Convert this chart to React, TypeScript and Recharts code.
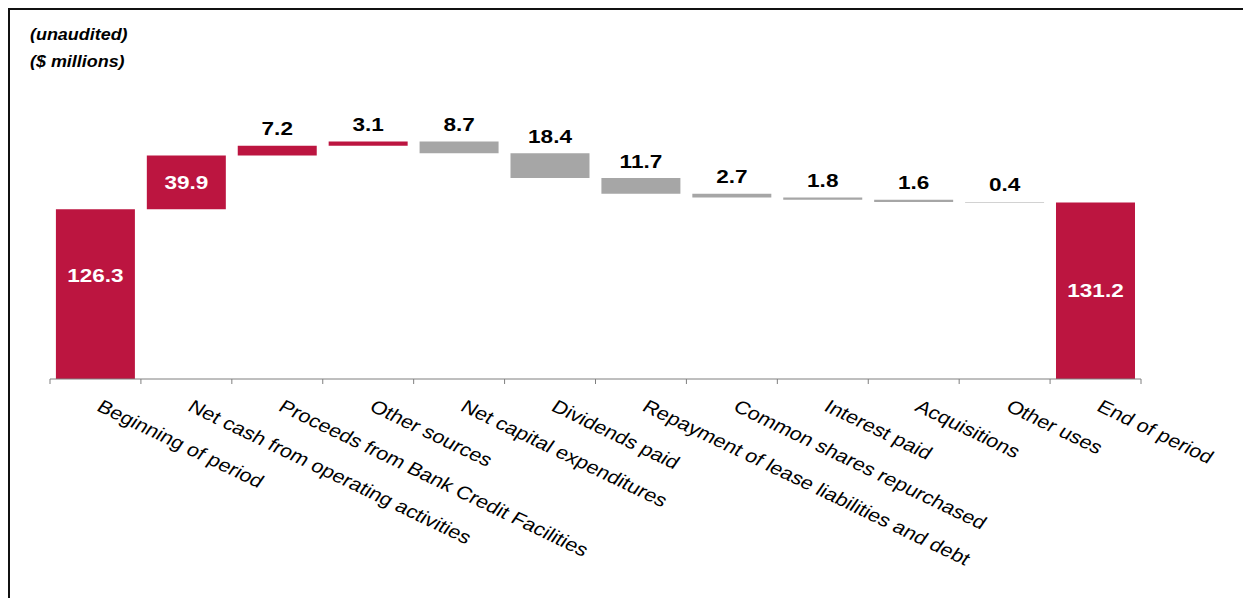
import { Bar, BarChart, Cell, LabelList, XAxis, YAxis } from "recharts";

const categories = [
  "Beginning of period",
  "Net cash from operating activities",
  "Proceeds from Bank Credit Facilities",
  "Other sources",
  "Net capital expenditures",
  "Dividends paid",
  "Repayment of lease liabilities and debt",
  "Common shares repurchased",
  "Interest paid",
  "Acquisitions",
  "Other uses",
  "End of period",
];

const amounts = [126.3, 39.9, 7.2, 3.1, 8.7, 18.4, 11.7, 2.7, 1.8, 1.6, 0.4, 131.2];

const kinds = ["total", "source", "source", "source", "use", "use", "use", "use", "use", "use", "use", "total"];

const RED = "#BC1540";
const GREY = "#A6A6A6";
const FONT = '"Liberation Sans", Arial, sans-serif';
const STRETCH = 1.2;

const CHART_W = 1243;
const CHART_H = 590;
const MARGIN = { top: 102, right: 110, bottom: 19, left: 42 };
const AXIS_H = 200;
const PLOT_BOTTOM = CHART_H - MARGIN.bottom - AXIS_H;
const BAND = (CHART_W - MARGIN.left - MARGIN.right) / categories.length;

// waterfall rows: invisible base + visible step
const rows = (() => {
  let running = 0;
  return categories.map((name, i) => {
    const amt = amounts[i];
    const kind = kinds[i];
    let base = 0;
    if (kind === "total") {
      running = amt;
    } else if (kind === "source") {
      base = running;
      running += amt;
    } else {
      running -= amt;
      base = running;
    }
    return { name, base, value: amt, kind };
  });
})();

const AxisTick = (props: any) => {
  const { x, payload, index } = props;
  const left = x - BAND / 2;
  const right = x + BAND / 2;
  const ty = PLOT_BOTTOM + 31;
  return (
    <g>
      <line x1={left} y1={PLOT_BOTTOM} x2={left} y2={PLOT_BOTTOM + 5} stroke="#7f7f7f" />
      {index === categories.length - 1 && (
        <line x1={right} y1={PLOT_BOTTOM} x2={right} y2={PLOT_BOTTOM + 5} stroke="#7f7f7f" />
      )}
      <text
        transform={`translate(${x} ${ty}) scale(${STRETCH} 1) rotate(30)`}
        textAnchor="start"
        fontSize={18.2}
        fontFamily={FONT}
        fill="#000"
      >
        {payload.value}
      </text>
    </g>
  );
};

const ValueLabel = (props: any) => {
  const { x, y, width, height, index } = props;
  const row = rows[index];
  if (!row) return null;
  const cx = x + width / 2;
  const inside = index === 0 || index === 1 || index === categories.length - 1;
  let by: number;
  if (inside) {
    by = index === 0 ? y + height * 0.39 + 6.6 : y + height / 2 + 6.6;
  } else {
    by = Math.min(y, y + height) - 10.5;
  }
  return (
    <text
      transform={`translate(${cx} ${by}) scale(${STRETCH} 1)`}
      textAnchor="middle"
      fontSize={18.8}
      fontWeight="bold"
      fontFamily={FONT}
      fill={inside ? "#fff" : "#000"}
    >
      {row.value.toFixed(1)}
    </text>
  );
};

const headerStyle: React.CSSProperties = {
  position: "absolute",
  left: 22,
  fontFamily: FONT,
  fontSize: 16,
  fontWeight: "bold",
  fontStyle: "italic",
  transform: "scaleX(1.12)",
  transformOrigin: "left center",
  whiteSpace: "nowrap",
  lineHeight: "18px",
};

export default function App() {
  return (
    <div style={{ position: "relative", width: CHART_W, height: CHART_H, overflow: "hidden", background: "#fff" }}>
      <div
        style={{
          position: "absolute",
          left: 0,
          top: 0,
          width: CHART_W,
          height: CHART_H,
          borderTop: "2px solid #111",
          borderLeft: "2px solid #111",
          boxSizing: "border-box",
        }}
      />
      <div style={{ ...headerStyle, top: 18 }}>(unaudited)</div>
      <div style={{ ...headerStyle, top: 45 }}>($ millions)</div>
      <div style={{ position: "absolute", left: 0, top: 0 }}>
        <BarChart width={CHART_W} height={CHART_H} data={rows} margin={MARGIN} barCategoryGap="6.5%">
          <XAxis
            dataKey="name"
            interval={0}
            height={AXIS_H}
            tickLine={false}
            axisLine={{ stroke: "#7f7f7f" }}
            tick={<AxisTick />}
          />
          <YAxis hide domain={[0, 200]} />
          <Bar dataKey="base" stackId="w" fill="transparent" isAnimationActive={false} />
          <Bar dataKey="value" stackId="w" isAnimationActive={false}>
            {rows.map((r, i) => (
              <Cell key={i} fill={r.kind === "use" ? GREY : RED} />
            ))}
            <LabelList dataKey="value" content={<ValueLabel />} />
          </Bar>
        </BarChart>
      </div>
    </div>
  );
}
